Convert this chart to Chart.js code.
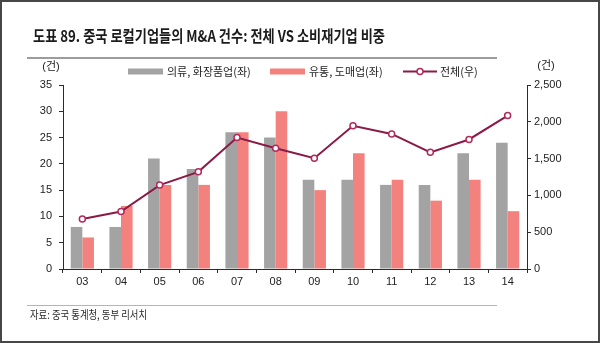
<!DOCTYPE html>
<html>
<head>
<meta charset="utf-8">
<script src="https://cdn.jsdelivr.net/npm/chart.js@4/dist/chart.umd.min.js"></script>
<style>
  html, body { margin: 0; padding: 0; background: #fff; }
  canvas { display: block; }
</style>
</head>
<body>
<canvas id="c" width="600" height="343"></canvas>
<script>
// Years (20xx) on the category axis
const years = ['03', '04', '05', '06', '07', '08', '09', '10', '11', '12', '13', '14'];
// M&A counts by sector (left axis)
const apparelCosmetics = [8, 8, 21, 19, 26, 25, 17, 17, 16, 16, 22, 24];
const retailWholesale = [6, 12, 16, 16, 26, 30, 15, 22, 17, 13, 17, 11];
// Total M&A counts (right axis)
const totalDeals = [680, 780, 1140, 1320, 1785, 1640, 1505, 1945, 1835, 1585, 1760, 2085];

const seriesNames = ['의류, 화장품업(좌)', '유통, 도매업(좌)', '전체(우)'];
const titleText = '도표 89. 중국 로컬기업들의 M&A 건수: 전체 VS 소비재기업 비중';
const sourceText = '자료: 중국 통계청, 동부 리서치';
const unitText = '(건)';

const GRAY = '#a3a3a3';
const PINK = '#f3827f';
const LINE = '#8a1a46';
const MARK = '#b22a5c';
const AXIS = '#2b2b2b';
const TEXT = '#222222';

Chart.defaults.font.family = "'Liberation Sans', 'Noto Sans CJK KR', Arial, sans-serif";
Chart.defaults.font.size = 11;
Chart.defaults.color = TEXT;

// Page furniture: background, frame, title, rules, units, legend, source note
const pageDecor = {
  id: 'pageDecor',
  beforeDraw(chart) {
    const ctx = chart.ctx;
    ctx.save();
    ctx.fillStyle = '#ffffff';
    ctx.fillRect(0, 0, chart.width, chart.height);
    ctx.restore();
  },
  afterDraw(chart) {
    const ctx = chart.ctx;
    const area = chart.chartArea;
    ctx.save();

    // outer frame
    ctx.strokeStyle = '#474747';
    ctx.lineWidth = 2;
    ctx.strokeRect(1, 1, chart.width - 2, chart.height - 2);

    // title
    ctx.fillStyle = '#1b1b1b';
    ctx.font = "bold 16px 'Noto Sans CJK KR', sans-serif";
    ctx.textBaseline = 'middle';
    ctx.textAlign = 'left';
    ctx.fillText(titleText, 33, 36, 352);

    // rule under title
    ctx.strokeStyle = '#9c9c9c';
    ctx.lineWidth = 2;
    ctx.beginPath();
    ctx.moveTo(27, 58);
    ctx.lineTo(497, 58);
    ctx.stroke();

    // rule above source
    ctx.strokeStyle = '#b5b5b5';
    ctx.lineWidth = 1;
    ctx.beginPath();
    ctx.moveTo(27, 305.5);
    ctx.lineTo(497, 305.5);
    ctx.stroke();

    // source note
    ctx.fillStyle = '#2a2a2a';
    ctx.font = "11px 'Noto Sans CJK KR', sans-serif";
    ctx.fillText(sourceText, 30, 315, 117);

    // axis units
    ctx.font = "11px 'Liberation Sans', 'Noto Sans CJK KR', sans-serif";
    ctx.textAlign = 'center';
    ctx.fillStyle = TEXT;
    ctx.fillText(unitText, area.left - 12, 67);
    ctx.fillText(unitText, area.right + 19, 66);

    // legend
    const ly = 71.5;
    const ds = chart.data.datasets;
    ctx.textAlign = 'left';
    ctx.font = "11px 'Noto Sans CJK KR', sans-serif";
    ctx.fillStyle = ds[0].backgroundColor;
    ctx.fillRect(128, ly - 3, 35, 6);
    ctx.fillStyle = TEXT;
    ctx.fillText(ds[0].label, 167, ly, 84);

    ctx.fillStyle = ds[1].backgroundColor;
    ctx.fillRect(270, ly - 3, 35, 6);
    ctx.fillStyle = TEXT;
    ctx.fillText(ds[1].label, 309, ly, 76);

    ctx.strokeStyle = ds[2].borderColor;
    ctx.lineWidth = 2;
    ctx.beginPath();
    ctx.moveTo(403, ly);
    ctx.lineTo(437, ly);
    ctx.stroke();
    ctx.beginPath();
    ctx.arc(420, ly, 3, 0, Math.PI * 2);
    ctx.fillStyle = '#ffffff';
    ctx.fill();
    ctx.strokeStyle = ds[2].pointBorderColor;
    ctx.lineWidth = 1.5;
    ctx.stroke();
    ctx.fillStyle = TEXT;
    ctx.fillText(ds[2].label, 440, ly, 42);

    ctx.restore();
  }
};

new Chart(document.getElementById('c'), {
  type: 'bar',
  data: {
    labels: years,
    datasets: [
      {
        label: seriesNames[0],
        data: apparelCosmetics,
        backgroundColor: GRAY,
        yAxisID: 'y',
        order: 1,
        categoryPercentage: 0.6,
        barPercentage: 1.0
      },
      {
        label: seriesNames[1],
        data: retailWholesale,
        backgroundColor: PINK,
        yAxisID: 'y',
        order: 1,
        categoryPercentage: 0.6,
        barPercentage: 1.0
      },
      {
        type: 'line',
        label: seriesNames[2],
        data: totalDeals,
        yAxisID: 'y2',
        order: 0,
        borderColor: LINE,
        borderWidth: 2,
        backgroundColor: '#ffffff',
        pointRadius: 3,
        pointBorderWidth: 1.5,
        pointBackgroundColor: '#ffffff',
        pointBorderColor: MARK,
        tension: 0
      }
    ]
  },
  options: {
    responsive: false,
    animation: false,
    devicePixelRatio: 1,
    layout: { padding: { top: 85, left: 0, right: 0, bottom: 0 } },
    plugins: {
      legend: { display: false },
      tooltip: { enabled: false }
    },
    scales: {
      x: {
        grid: { display: true, drawOnChartArea: false, drawTicks: true, tickLength: 4, color: AXIS, offset: true },
        border: { display: true, color: AXIS, width: 1 },
        ticks: { padding: 2, color: TEXT, font: { size: 11 }, maxRotation: 0 },
        afterFit(scale) { scale.height = 74; }
      },
      y: {
        position: 'left',
        min: 0,
        max: 35,
        ticks: { stepSize: 5, padding: 7, color: TEXT, font: { size: 11 } },
        grid: { display: true, drawOnChartArea: false, drawTicks: true, tickLength: 4, color: AXIS },
        border: { display: true, color: AXIS, width: 1 },
        afterFit(scale) { scale.width = 63; }
      },
      y2: {
        position: 'right',
        min: 0,
        max: 2500,
        ticks: {
          stepSize: 500,
          padding: 3,
          color: TEXT,
          font: { size: 11 },
          callback: (v) => Number(v).toLocaleString('en-US')
        },
        grid: { display: true, drawOnChartArea: false, drawTicks: true, tickLength: 4, color: AXIS },
        border: { display: true, color: AXIS, width: 1 },
        afterFit(scale) { scale.width = 73; }
      }
    }
  },
  plugins: [pageDecor]
});
</script>
</body>
</html>
